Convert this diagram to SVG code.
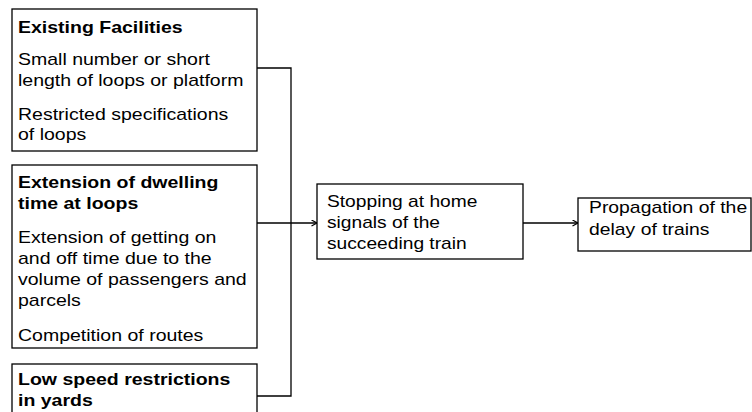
<svg xmlns="http://www.w3.org/2000/svg" width="752" height="412" viewBox="0 0 752 412">
<style>
.box{fill:#fff;stroke:#000;stroke-width:1.3}
.t{font-family:"Liberation Sans",Arial,sans-serif;font-size:16px;fill:#000}
.b{font-weight:bold}
.c{fill:none;stroke:#000;stroke-width:1.3}
</style>
<defs>
<marker id="arr" markerWidth="8" markerHeight="8" refX="6" refY="3.5" orient="auto" markerUnits="userSpaceOnUse">
<path d="M0.5,0.5 L6,3.5 L0.5,6.5" fill="none" stroke="#000" stroke-width="1.2"/>
</marker>
</defs>
<rect width="752" height="412" fill="#fff"/>
<g id="connectors">
<path class="c" d="M257,68 H291 V396 H257"/>
<path class="c" d="M257,223 H317" marker-end="url(#arr)"/>
<path class="c" d="M523,223 H578" marker-end="url(#arr)"/>
</g>
<g id="existing-facilities">
<rect class="box" x="12" y="9" width="245" height="142"/>
<text class="t b" transform="translate(18,33) scale(1.22,1)">Existing Facilities</text>
<text class="t" transform="translate(18,65) scale(1.22,1)">Small number or short</text>
<text class="t" transform="translate(18,86) scale(1.22,1)">length of loops or platform</text>
<text class="t" transform="translate(18,120) scale(1.22,1)">Restricted specifications</text>
<text class="t" transform="translate(18,140) scale(1.22,1)">of loops</text>
</g>
<g id="dwelling-time">
<rect class="box" x="12" y="165" width="245" height="183"/>
<text class="t b" transform="translate(18,188) scale(1.22,1)">Extension of dwelling</text>
<text class="t b" transform="translate(18,209) scale(1.22,1)">time at loops</text>
<text class="t" transform="translate(18,243) scale(1.22,1)">Extension of getting on</text>
<text class="t" transform="translate(18,264) scale(1.22,1)">and off time due to the</text>
<text class="t" transform="translate(18,285) scale(1.22,1)">volume of passengers and</text>
<text class="t" transform="translate(18,306) scale(1.22,1)">parcels</text>
<text class="t" transform="translate(18,341) scale(1.22,1)">Competition of routes</text>
</g>
<g id="low-speed">
<rect class="box" x="12" y="364" width="245" height="60"/>
<text class="t b" transform="translate(18,385) scale(1.22,1)">Low speed restrictions</text>
<text class="t b" transform="translate(18,406) scale(1.22,1)">in yards</text>
</g>
<g id="stopping">
<rect class="box" x="317" y="184" width="206" height="75"/>
<text class="t" transform="translate(327,207) scale(1.2,1)">Stopping at home</text>
<text class="t" transform="translate(327,228) scale(1.2,1)">signals of the</text>
<text class="t" transform="translate(327,249) scale(1.2,1)">succeeding train</text>
</g>
<g id="propagation">
<rect class="box" x="578" y="198" width="173" height="53"/>
<text class="t" transform="translate(589,213) scale(1.21,1)">Propagation of the</text>
<text class="t" transform="translate(589,235) scale(1.21,1)">delay of trains</text>
</g>
</svg>
